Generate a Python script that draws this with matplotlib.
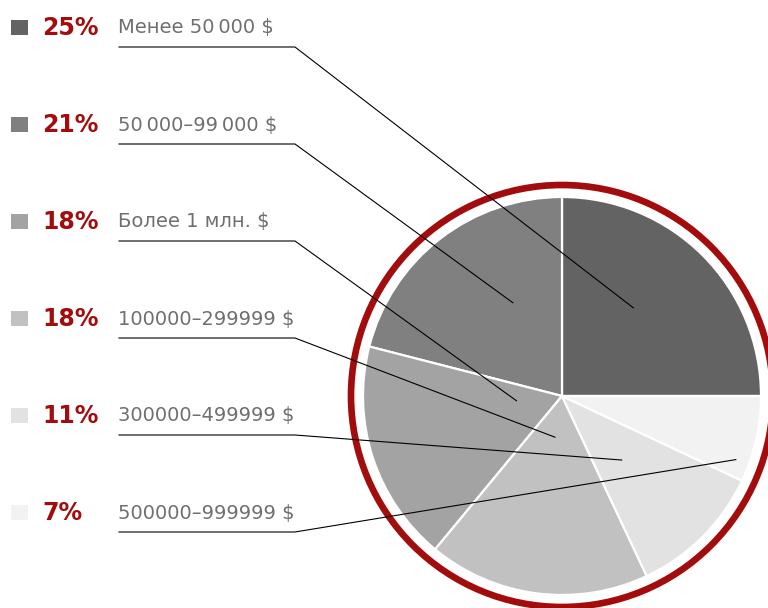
import numpy as np
import matplotlib.pyplot as plt
from matplotlib.patches import Circle, Rectangle

# income groups, in legend order (pie goes counterclockwise from 3 o'clock)
labels = ["Менее 50\u2009000 $", "50\u2009000–99\u2009000 $", "Более 1 млн. $",
          "100000–299999 $", "300000–499999 $", "500000–999999 $"]
shares = [25, 21, 18, 18, 11, 7]
colors = ["#626362", "#7f807f", "#a2a3a2", "#c0c1c0", "#e1e2e1", "#f2f2f2"]

# where each leader line lands inside its wedge: (angle shift in deg, radius fraction)
anchors = [(6, 0.57), (-10, 0.53), (-12, 0.23), (-2.5, 0.21), (-2, 0.44), (-7.5, 0.93)]

W, H = 768, 608
RED = "#a30c0c"
GRAY_TEXT = "#6f6f6f"
FONT = "DejaVu Sans"


def main() -> None:
    fig = plt.figure(figsize=(W / 100, H / 100), dpi=100)
    ax = fig.add_axes([0, 0, 1, 1])

    cx, cy, r = 562, H - 396, 199
    wedges, _ = ax.pie(shares, colors=colors, startangle=0, counterclock=True,
                       center=(cx, cy), radius=r, frame=True,
                       wedgeprops=dict(edgecolor="white", linewidth=1.6))
    ax.set_xlim(0, W)
    ax.set_ylim(0, H)
    ax.set_aspect("equal")
    ax.axis("off")
    ax.add_patch(Circle((cx, cy), 211, fill=False, edgecolor=RED, linewidth=4.8))

    for i, (w, lab, pct, col) in enumerate(zip(wedges, labels, shares, colors)):
        row_y = H - (28 + 97 * i)
        line_y = row_y - 19
        ax.add_patch(Rectangle((11, row_y - 7), 17, 15, facecolor=col, edgecolor="none"))
        ax.text(42, row_y, f"{pct}%", color=RED, fontsize=17, fontweight="bold",
                family=FONT, va="center", ha="left")
        ax.text(118, row_y, lab, color=GRAY_TEXT, fontsize=14, family=FONT,
                va="center", ha="left")

        shift, frac = anchors[i]
        ang = np.deg2rad((w.theta1 + w.theta2) / 2 + shift)
        ex, ey = cx + frac * r * np.cos(ang), cy + frac * r * np.sin(ang)
        ax.plot([119, 295, ex], [line_y, line_y, ey], color="black", linewidth=0.8,
                solid_joinstyle="miter")

    fig.savefig("out.png", dpi=100)
    plt.close(fig)


if __name__ == "__main__":
    main()
